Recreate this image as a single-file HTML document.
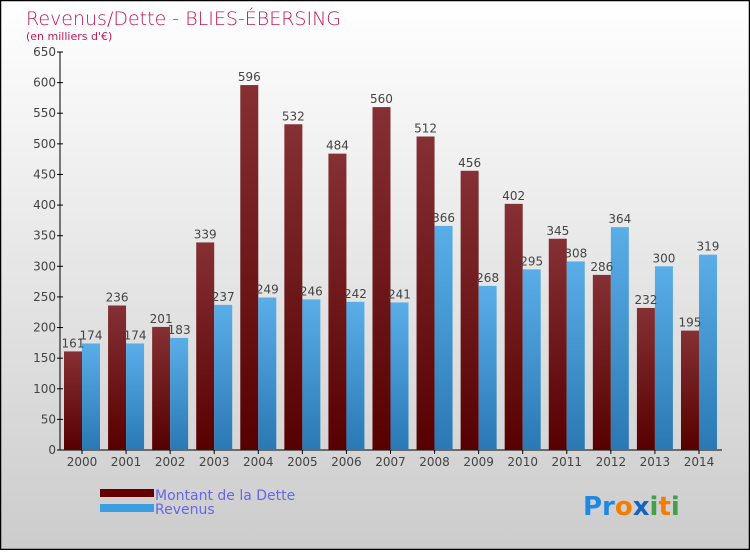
<!DOCTYPE html>
<html><head><meta charset="utf-8"><style>
html,body{margin:0;padding:0}
body{width:750px;height:550px;overflow:hidden;font-family:"DejaVu Sans","Liberation Sans",sans-serif}
</style></head><body>
<svg id="chart" width="750" height="550" xmlns="http://www.w3.org/2000/svg">
<defs>
<linearGradient id="bg" x1="0" y1="0" x2="0" y2="1"><stop offset="0" stop-color="#ffffff"/><stop offset="1" stop-color="#cccccc"/></linearGradient>
<linearGradient id="gd" x1="0" y1="0" x2="0" y2="1"><stop offset="0" stop-color="#853034"/><stop offset="1" stop-color="#560000"/></linearGradient>
<linearGradient id="gr" x1="0" y1="0" x2="0" y2="1"><stop offset="0" stop-color="#5aaee8"/><stop offset="1" stop-color="#2a78b4"/></linearGradient>
</defs>
<rect x="0.5" y="0.5" width="749" height="549" fill="url(#bg)" stroke="#000" stroke-width="1.5"/>
<text x="26" y="25" font-size="19" fill="#c2185b" font-family="DejaVu Sans, sans-serif" font-weight="200">Revenus/Dette - BLIES-ÉBERSING</text>
<text x="26" y="40" font-size="11" fill="#c2185b">(en milliers d'€)</text>
<g id="axes"></g>
<g id="bars"></g>
<g>
<rect x="100" y="489" width="54" height="8" fill="#640000"/>
<text x="155" y="500" font-size="14" fill="#6666ee">Montant de la Dette</text>
<rect x="100" y="504" width="54" height="8" fill="#3a9ee0"/>
<text x="155" y="514" font-size="14" fill="#6666ee">Revenus</text>
</g>
<text x="583" y="515" font-size="26" font-weight="bold"><tspan fill="#1e88e5">Pr</tspan><tspan fill="#f57c00">o</tspan><tspan fill="#1565c0">x</tspan><tspan fill="#43a047">i</tspan><tspan fill="#f57c00">t</tspan><tspan fill="#43a047">i</tspan></text>
</svg>
<script>
const years=["2000","2001","2002","2003","2004","2005","2006","2007","2008","2009","2010","2011","2012","2013","2014"];
const dette=[161,236,201,339,596,532,484,560,512,456,402,345,286,232,195];
const revenus=[174,174,183,237,249,246,242,241,366,268,295,308,364,300,319];
const ticks=[0,50,100,150,200,250,300,350,400,450,500,550,600,650];
const NS="http://www.w3.org/2000/svg";
const x0=60,y0=450,yTop=52,maxV=650,gw=44.07,bw=18;
function y(v){return y0-(v/maxV)*(y0-yTop);}
function gx(i){return 82+i*gw;}
function mk(t,a,p){const e=document.createElementNS(NS,t);for(const k in a)e.setAttribute(k,a[k]);p.appendChild(e);return e;}
const ax=document.getElementById('axes'),bars=document.getElementById('bars');
let l=mk('line',{x1:x0,y1:yTop,x2:x0,y2:y0,stroke:'#000'},ax);


l=mk('line',{x1:x0,y1:y0,x2:722,y2:y0,stroke:'#000'},ax);


ticks.forEach(v=>{
 const t=mk('line',{x1:x0-3,x2:x0+3,y1:y(v),y2:y(v),stroke:'#000'},ax);
 
 
 const tx=mk('text',{x:x0-4,y:y(v)+4,'font-size':12,fill:'#444','text-anchor':'end'},ax);
 
 
 tx.textContent=v;
});
years.forEach((yr,i)=>{
 const c=gx(i);
 const t=mk('line',{x1:c,x2:c,y1:y0,y2:y0+4,stroke:'#000'},ax);
 
 
 const tx=mk('text',{x:c,y:y0+16,'font-size':12,fill:'#444','text-anchor':'middle'},ax);
 
 
 tx.textContent=yr;
 const b1=mk('rect',{x:c-bw,y:y(dette[i]),width:bw,height:y0-y(dette[i]),fill:'url(#gd)'},bars);
 
 
 const b2=mk('rect',{x:c,y:y(revenus[i]),width:bw,height:y0-y(revenus[i]),fill:'url(#gr)'},bars);
 
 
 const l1=mk('text',{x:c-bw/2,y:y(dette[i])-4,'font-size':12,fill:'#444','text-anchor':'middle'},bars);
 
 
 l1.textContent=dette[i];
 const l2=mk('text',{x:c+bw/2,y:y(revenus[i])-4,'font-size':12,fill:'#444','text-anchor':'middle'},bars);
 
 
 l2.textContent=revenus[i];
});
</script>
</body></html>
